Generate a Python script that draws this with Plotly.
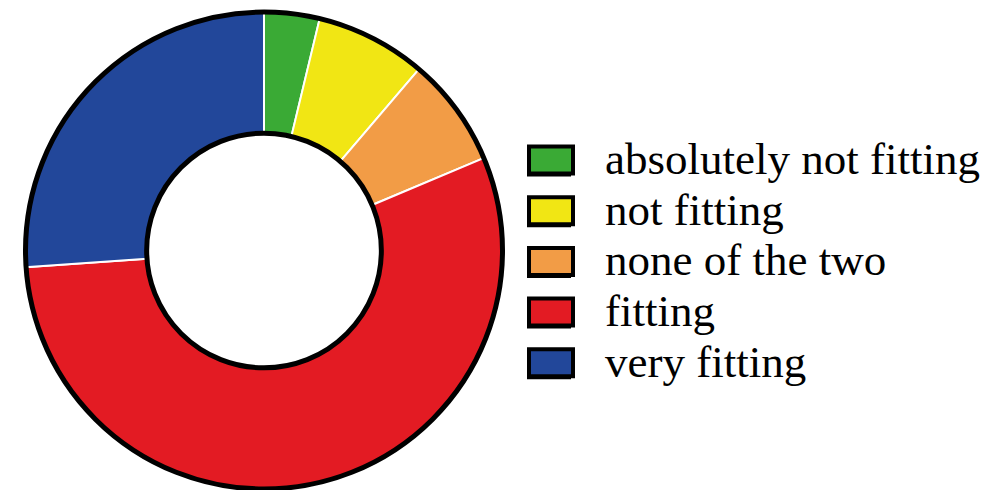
import plotly.graph_objects as go

# Survey answers and their shares (%)
categories = ["absolutely not fitting", "not fitting", "none of the two", "fitting", "very fitting"]
shares = [3.75, 7.5, 7.4, 55.2, 26.1]
colors = ["#3aaa35", "#f1e614", "#f29c46", "#e31b23", "#22479a"]

W, H = 997, 490
cx, cy, R = 264.0, 250.5, 239.5   # pie centre and radius in pixels
hole = 0.49


def px(x):
    return x / W


def py(y):
    return 1 - y / H


fig = go.Figure(
    go.Pie(
        labels=categories,
        values=shares,
        sort=False,
        direction="clockwise",
        rotation=0,
        hole=hole,
        textinfo="none",
        hoverinfo="label+percent",
        marker=dict(colors=colors, line=dict(color="white", width=2)),
        domain=dict(x=[px(cx - R), px(cx + R)], y=[py(cy + R), py(cy - R)]),
        showlegend=False,
    )
)

shapes = []
# black rims on the outer edge and around the hole
for rad, lw in [(R - 1, 5), (R * hole, 5)]:
    shapes.append(dict(
        type="circle", xref="paper", yref="paper",
        xsizemode="pixel", ysizemode="pixel",
        xanchor=px(cx), yanchor=py(cy),
        x0=-rad, x1=rad, y0=-rad, y1=rad,
        line=dict(color="black", width=lw), fillcolor="rgba(0,0,0,0)",
        layer="above",
    ))

annotations = []
box_x, box_w, box_h = 529, 44, 27
row0, row_step = 160, 50.7
for i, (name, col) in enumerate(zip(categories, colors)):
    yc = row0 + i * row_step
    # drop shadow under the swatch
    shapes.append(dict(
        type="rect", xref="paper", yref="paper",
        x0=px(box_x - 2), x1=px(box_x + box_w - 2),
        y0=py(yc + box_h / 2 + 3), y1=py(yc - box_h / 2 + 3),
        line=dict(width=0), fillcolor="black", layer="above",
    ))
    shapes.append(dict(
        type="rect", xref="paper", yref="paper",
        x0=px(box_x), x1=px(box_x + box_w),
        y0=py(yc + box_h / 2), y1=py(yc - box_h / 2),
        line=dict(color="black", width=4), fillcolor=col, layer="above",
    ))
    annotations.append(dict(
        text=name, xref="paper", yref="paper",
        x=px(603), y=py(yc - 1), xanchor="left", yanchor="middle",
        showarrow=False,
        font=dict(family="Liberation Serif", size=45, color="black"),
    ))

fig.update_layout(
    width=W, height=H,
    margin=dict(l=0, r=0, t=0, b=0),
    paper_bgcolor="white", plot_bgcolor="white",
    shapes=shapes, annotations=annotations,
)

fig.write_html("out.html")
